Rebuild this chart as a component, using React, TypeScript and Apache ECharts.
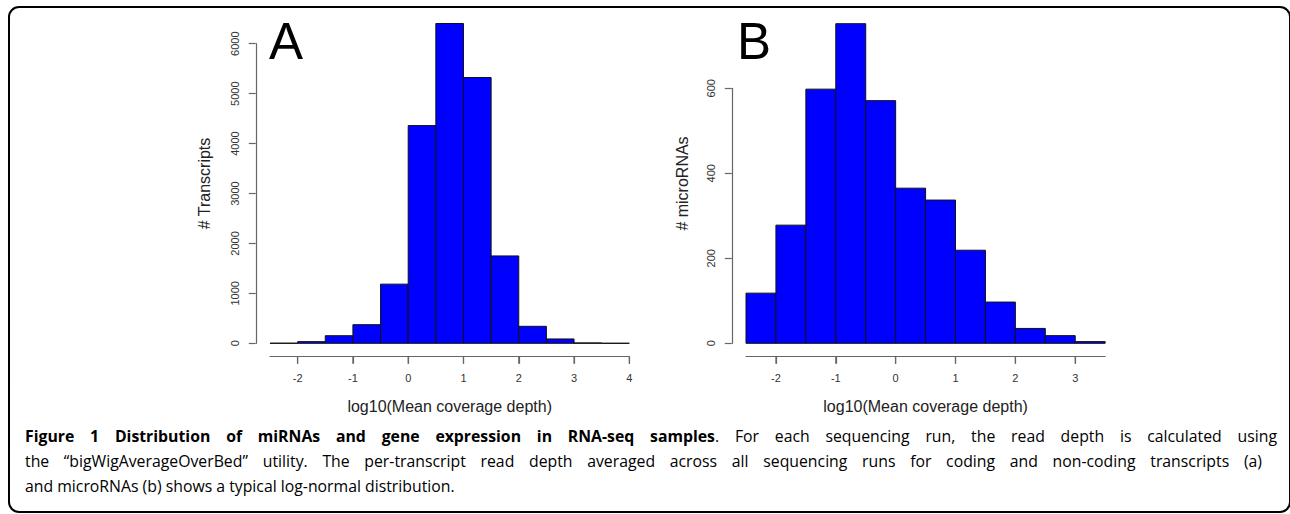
import React, { useEffect, useRef } from "react";
import * as echarts from "echarts";

// ---- Data ----
const edgesA = [-2.5, -2, -1.5, -1, -0.5, 0, 0.5, 1, 1.5, 2, 2.5, 3, 3.5, 4];
const countsA = [2, 33, 152, 373, 1185, 4360, 6405, 5323, 1750, 340, 87, 8, 1];
const xTicksA = [-2, -1, 0, 1, 2, 3, 4];
const yTicksA = [0, 1000, 2000, 3000, 4000, 5000, 6000];

const edgesB = [-2.5, -2, -1.5, -1, -0.5, 0, 0.5, 1, 1.5, 2, 2.5, 3, 3.5];
const countsB = [118, 278, 598, 752, 571, 365, 337, 219, 97, 35, 18, 4];
const xTicksB = [-2, -1, 0, 1, 2, 3];
const yTicksB = [0, 200, 400, 600];

const xTitle = "log10(Mean coverage depth)";
const yTitleA = "# Transcripts";
const yTitleB = "# microRNAs";
const captionBold = "Figure 1 Distribution of miRNAs and gene expression in RNA-seq samples";
const captionLine1Rest = ". For each sequencing run, the read depth is calculated using";
const captionLine2 =
  "the \u201cbigWigAverageOverBed\u201d utility. The per-transcript read depth averaged across all sequencing runs for coding and non-coding transcripts (a)";
const captionLine3 = "and microRNAs (b) shows a typical log-normal distribution.";

// ---- Layout (pixels) ----
const panelA = { left: 270, ppu: 55.28, zeroY: 343.3, ppv: 0.04993 };
const panelB = { left: 746, ppu: 59.86, zeroY: 343.3, ppv: 0.425 };
const X_AXIS_DROP = 13.4;
const Y_AXIS_SHIFT = 14.2;
const TICK_LEN = 7;
const AXIS_COLOR = "#666";
const LABEL_COLOR = "#333";
const PLOT_FONT = "'Liberation Sans', Arial, Helvetica, sans-serif";
const CAP_FONT = "'Open Sans', 'Noto Sans', sans-serif";
const CAP_SIZE = 16;

function measure(text: string, font: string) {
  const ctx = document.createElement("canvas").getContext("2d")!;
  ctx.font = font;
  return ctx.measureText(text).width;
}

function histData(edges: number[], counts: number[]) {
  return counts.map((c, i) => [edges[i], edges[i + 1], c]);
}

function buildPanel(
  p: { left: number; ppu: number; zeroY: number; ppv: number },
  edges: number[],
  counts: number[],
  xTicks: number[],
  yTicks: number[],
  gi: number
) {
  const yMax = yTicks[yTicks.length - 1];
  const height = yMax * p.ppv;
  const top = p.zeroY - height;
  const dataWidth = (edges[edges.length - 1] - edges[0]) * p.ppu;
  const grid = { left: p.left, top, width: dataWidth, height };
  const xAxis = {
    gridIndex: gi,
    type: "value",
    min: edges[0],
    max: edges[edges.length - 1],
    position: "bottom",
    offset: X_AXIS_DROP,
    axisLine: { show: true, onZero: false, lineStyle: { color: AXIS_COLOR, width: 1.2 } },
    axisTick: {
      show: true,
      length: TICK_LEN,
      inside: false,
      customValues: xTicks,
      lineStyle: { color: AXIS_COLOR, width: 1.2 },
    },
    splitLine: { show: false },
    axisLabel: {
      show: true,
      customValues: xTicks,
      fontSize: 11,
      color: LABEL_COLOR,
      fontFamily: PLOT_FONT,
      margin: 16,
      formatter: (v: number) => String(v),
    },
  };
  const yAxis = {
    gridIndex: gi,
    type: "value",
    min: yTicks[0],
    max: yMax,
    interval: yTicks[1] - yTicks[0],
    position: "left",
    offset: Y_AXIS_SHIFT,
    axisLine: { show: true, onZero: false, lineStyle: { color: AXIS_COLOR, width: 1.2 } },
    axisTick: { show: true, length: TICK_LEN, inside: false, lineStyle: { color: AXIS_COLOR, width: 1.2 } },
    splitLine: { show: false },
    axisLabel: {
      show: true,
      rotate: 90,
      showMinLabel: true,
      showMaxLabel: true,
      fontSize: 11,
      color: LABEL_COLOR,
      fontFamily: PLOT_FONT,
      margin: 15,
      formatter: (v: number) => String(v),
    },
  };
  const bars = {
    type: "custom",
    xAxisIndex: gi,
    yAxisIndex: gi,
    clip: false,
    data: histData(edges, counts),
    encode: { x: [0, 1], y: 2 },
    renderItem: (_params: any, api: any) => {
      const a = api.coord([api.value(0), api.value(2)]);
      const b = api.coord([api.value(1), 0]);
      return {
        type: "rect",
        shape: { x: a[0], y: a[1], width: b[0] - a[0], height: b[1] - a[1] },
        style: { fill: "#0000ff", stroke: "#111", lineWidth: 1 },
      };
    },
  };
  // R-style x axis ticks (first..last tick), placed through the grid's own scale
  const xAxisMarks = {
    type: "custom",
    xAxisIndex: gi,
    yAxisIndex: gi,
    clip: false,
    silent: true,
    z: 3,
    data: xTicks.map((t) => [t, 0]),
    encode: { x: 0, y: 1 },
    renderItem: (_params: any, api: any) => {
      const q = api.coord([api.value(0), api.value(1)]);
      const y = q[1] + X_AXIS_DROP;
      return {
        type: "rect",
        shape: { x: q[0] - 0.6, y, width: 1.2, height: TICK_LEN },
        style: { fill: AXIS_COLOR },
      };
    },
  };
  const center = p.left + dataWidth / 2;
  return { grid, xAxis, yAxis, series: [bars, xAxisMarks], center, axisX: p.left - Y_AXIS_SHIFT };
}

type Part = { t: string; bold: boolean };

// splits segments into words; a segment not starting with a space glues onto the previous word
function toWords(segs: Part[]): Part[][] {
  const words: Part[][] = [];
  segs.forEach((s) => {
    const pieces = s.t.split(" ");
    pieces.forEach((pc, i) => {
      if (i === 0 && words.length > 0 && pc !== "") {
        words[words.length - 1].push({ t: pc, bold: s.bold });
      } else if (pc !== "") {
        words.push([{ t: pc, bold: s.bold }]);
      }
    });
  });
  return words;
}

function fontOf(bold: boolean) {
  return `${bold ? "bold " : ""}${CAP_SIZE}px 'Open Sans'`;
}

function justifiedLine(segs: Part[], left: number, right: number, y: number, sx: number) {
  const words = toWords(segs);
  const widths = words.map((w) => w.reduce((acc, p) => acc + measure(p.t, fontOf(p.bold)), 0) * sx);
  const total = widths.reduce((a, b) => a + b, 0);
  const gap = (right - left - total) / (words.length - 1);
  const els: any[] = [];
  let x = left;
  words.forEach((w, i) => {
    els.push({
      type: "text",
      x,
      y,
      scaleX: sx,
      style: {
        text: w.map((p) => `{${p.bold ? "b" : "r"}|${p.t}}`).join(""),
        align: "left",
        verticalAlign: "middle",
        rich: {
          b: { fontSize: CAP_SIZE, fontFamily: CAP_FONT, fontWeight: "bold", fill: "#000" },
          r: { fontSize: CAP_SIZE, fontFamily: CAP_FONT, fill: "#000" },
        },
      },
    });
    x += widths[i] + gap;
  });
  return els;
}

export default function App() {
  const ref = useRef<HTMLDivElement>(null);
  useEffect(() => {
    document.body.style.margin = "0";
    if (!ref.current) return;
    const chart = echarts.init(ref.current, undefined, { renderer: "svg" });

    const A = buildPanel(panelA, edgesA, countsA, xTicksA, yTicksA, 0);
    const B = buildPanel(panelB, edgesB, countsB, xTicksB, yTicksB, 1);

    const capLeft = 25;
    const w3 = measure(captionLine3, fontOf(false));
    const sx = (455 - capLeft) / w3;

    const line1 = justifiedLine(
      [
        { t: captionBold, bold: true },
        { t: captionLine1Rest, bold: false },
      ],
      capLeft,
      1277,
      436,
      sx
    );
    const line2 = justifiedLine([{ t: captionLine2, bold: false }], capLeft, 1262, 461, sx);

    const titleStyle = { fontSize: 16, fontFamily: PLOT_FONT, fill: "#222" };

    const option: any = {
      animation: false,
      grid: [A.grid, B.grid],
      xAxis: [A.xAxis, B.xAxis],
      yAxis: [A.yAxis, B.yAxis],
      series: [...A.series, ...B.series],
      graphic: [
        {
          type: "rect",
          z: -10,
          shape: { x: 9, y: 7, width: 1281, height: 505, r: 10 },
          style: { fill: "transparent", stroke: "#000", lineWidth: 2 },
          silent: true,
        },
        {
          type: "text",
          x: 269,
          y: 41.5,
          style: { text: "A", fontSize: 51, fontFamily: PLOT_FONT, fill: "#000", align: "left", verticalAlign: "middle" },
        },
        {
          type: "text",
          x: 737,
          y: 41.5,
          style: { text: "B", fontSize: 51, fontFamily: PLOT_FONT, fill: "#000", align: "left", verticalAlign: "middle" },
        },
        {
          type: "text",
          x: A.center,
          y: 406,
          style: { ...titleStyle, text: xTitle, align: "center", verticalAlign: "middle" },
        },
        {
          type: "text",
          x: B.center,
          y: 406,
          style: { ...titleStyle, text: xTitle, align: "center", verticalAlign: "middle" },
        },
        {
          type: "text",
          x: A.axisX - 51,
          y: 183.5,
          rotation: Math.PI / 2,
          style: { ...titleStyle, text: yTitleA, align: "center", verticalAlign: "middle" },
        },
        {
          type: "text",
          x: B.axisX - 49,
          y: 183.5,
          rotation: Math.PI / 2,
          style: { ...titleStyle, text: yTitleB, align: "center", verticalAlign: "middle" },
        },
        ...line1,
        ...line2,
        {
          type: "text",
          x: capLeft,
          y: 486,
          scaleX: sx,
          style: { text: captionLine3, fontSize: CAP_SIZE, fontFamily: CAP_FONT, fill: "#000", align: "left", verticalAlign: "middle" },
        },
      ],
    };
    chart.setOption(option);
    return () => chart.dispose();
  }, []);
  return <div ref={ref} style={{ width: 1290, height: 514 }} />;
}
